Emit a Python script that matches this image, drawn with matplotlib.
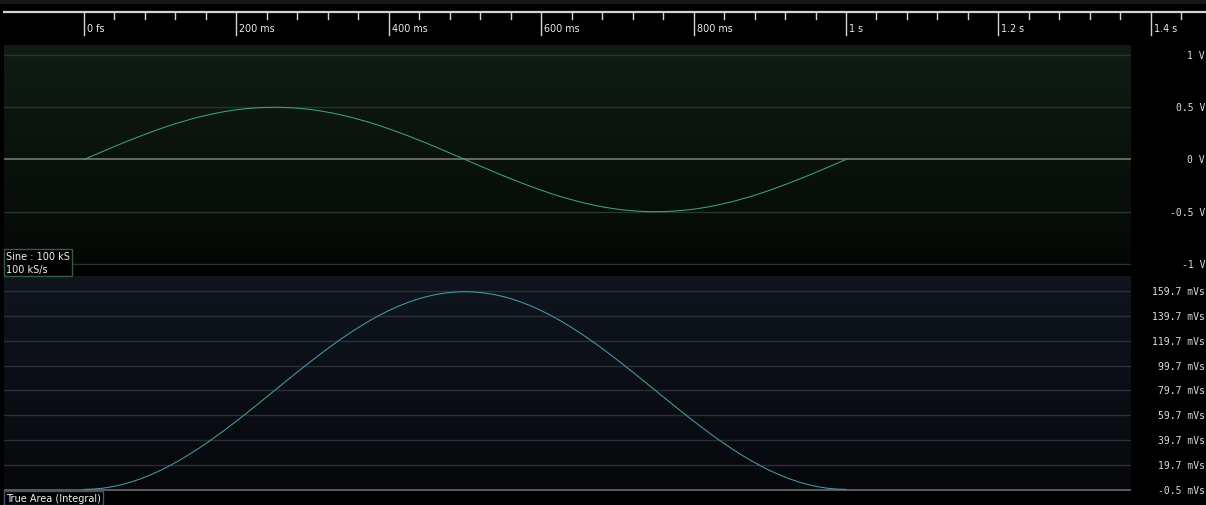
import numpy as np
import matplotlib
matplotlib.use("Agg")
import matplotlib.pyplot as plt
from matplotlib.patches import Rectangle
from matplotlib.colors import LinearSegmentedColormap

# -----------------------------
# Waveform data (12.5 ms steps over one period)
# -----------------------------
t_s = [i * 0.0125 for i in range(81)]

sine_v = [0.000, 0.039, 0.078, 0.117, 0.155, 0.191, 0.227, 0.261, 0.294, 0.325,
          0.354, 0.380, 0.405, 0.426, 0.446, 0.462, 0.476, 0.486, 0.494, 0.498,
          0.500, 0.498, 0.494, 0.486, 0.476, 0.462, 0.446, 0.426, 0.405, 0.380,
          0.354, 0.325, 0.294, 0.261, 0.227, 0.191, 0.155, 0.117, 0.078, 0.039,
          0.000, -0.039, -0.078, -0.117, -0.155, -0.191, -0.227, -0.261, -0.294, -0.325,
          -0.354, -0.380, -0.405, -0.426, -0.446, -0.462, -0.476, -0.486, -0.494, -0.498,
          -0.500, -0.498, -0.494, -0.486, -0.476, -0.462, -0.446, -0.426, -0.405, -0.380,
          -0.354, -0.325, -0.294, -0.261, -0.227, -0.191, -0.155, -0.117, -0.078, -0.039,
          0.000]

area_mvs = [0.00, 0.25, 0.98, 2.20, 3.89, 6.06, 8.67, 11.73, 15.20, 19.07,
            23.31, 27.90, 32.80, 38.00, 43.45, 49.13, 54.99, 61.00, 67.13, 73.34,
            79.58, 85.82, 92.03, 98.16, 104.17, 110.03, 115.71, 121.16, 126.36, 131.26,
            135.85, 140.09, 143.96, 147.43, 150.49, 153.10, 155.26, 156.96, 158.18, 158.91,
            159.16, 158.91, 158.18, 156.96, 155.26, 153.10, 150.49, 147.43, 143.96, 140.09,
            135.85, 131.26, 126.36, 121.16, 115.71, 110.03, 104.17, 98.16, 92.03, 85.82,
            79.58, 73.34, 67.13, 61.00, 54.99, 49.13, 43.45, 38.00, 32.80, 27.90,
            23.31, 19.07, 15.20, 11.73, 8.67, 6.06, 3.89, 2.20, 0.98, 0.25,
            0.00]

# Ruler / axis labels
ruler_ticks = [0.0, 0.2, 0.4, 0.6, 0.8, 1.0, 1.2, 1.4]
ruler_labels = ["0 fs", "200 ms", "400 ms", "600 ms", "800 ms", "1 s", "1.2 s", "1.4 s"]

volt_ticks = [1.0, 0.5, 0.0, -0.5, -1.0]
volt_labels = ["1 V", "0.5 V", "0 V", "-0.5 V", "-1 V"]

area_ticks = [159.7, 139.7, 119.7, 99.7, 79.7, 59.7, 39.7, 19.7, -0.5]
area_labels = ["159.7 mVs", "139.7 mVs", "119.7 mVs", "99.7 mVs", "79.7 mVs",
               "59.7 mVs", "39.7 mVs", "19.7 mVs", "-0.5 mVs"]

# -----------------------------
# Layout helpers (pixel based)
# -----------------------------
W, H = 1206, 506
PX_PER_S = 762.0
X0 = 84.0  # pixel of t = 0


def rect(x0, y0, x1, y1):
    return [x0 / W, 1 - y1 / H, (x1 - x0) / W, (y1 - y0) / H]


def px_to_t(px):
    return (px - X0) / PX_PER_S


fig = plt.figure(figsize=(W / 100, H / 100), dpi=100, facecolor="black")

# -----------------------------
# Time ruler
# -----------------------------
rul = fig.add_axes(rect(0, 0, W, 45))
rul.set_facecolor("black")
rul.set_xlim(px_to_t(0), px_to_t(W))
rul.set_ylim(45, 0)
rul.set_axis_off()
rul.axhspan(0, 4.5, color="#161616", lw=0)
rul.plot([px_to_t(3), px_to_t(W)], [13, 13], color="#d4d4d4", lw=1.6,
         solid_capstyle="butt")
for t0, lab in zip(ruler_ticks, ruler_labels):
    rul.plot([t0, t0], [13, 36], color="#d4d4d4", lw=1.0)
    rul.text(t0 + 3 / PX_PER_S, 28.5, lab, color="#ececec", fontsize=6.9,
             family="DejaVu Sans", va="center", ha="left")
    for k in range(1, 5):
        tm = t0 + k * 0.04
        if tm < px_to_t(W):
            rul.plot([tm, tm], [13, 19.5], color="#d4d4d4", lw=1.0)

# -----------------------------
# Panels
# -----------------------------
green_bg = LinearSegmentedColormap.from_list("g", ["#040805", "#101d14"])
blue_bg = LinearSegmentedColormap.from_list("b", ["#06080b", "#10151e"])
grad = np.linspace(0, 1, 256).reshape(-1, 1)

xlim = (px_to_t(4), px_to_t(1131))

top = fig.add_axes(rect(4, 46, 1131, 266))
top.set_xlim(*xlim)
top.set_ylim(-1.01, 1.096)
top.imshow(grad, cmap=green_bg, origin="lower", aspect="auto",
           extent=[0, 1, 0, 1], transform=top.transAxes, zorder=0)
for v in volt_ticks:
    if v != 0.0:
        top.axhline(v, color="#26362c", lw=1.0, zorder=1)
top.axhline(0.0, color="#7c7f7d", lw=1.1, zorder=2)
top.plot(t_s, sine_v, color="#3fa37a", lw=0.75, zorder=3)

bot = fig.add_axes(rect(4, 277, 1131, 492))
bot.set_xlim(*xlim)
bot.set_ylim(-1.3, 171.8)
bot.imshow(grad, cmap=blue_bg, origin="lower", aspect="auto",
           extent=[0, 1, 0, 1], transform=bot.transAxes, zorder=0)
for v in area_ticks[:-1]:
    bot.axhline(v, color="#2b3037", lw=1.0, zorder=1)
bot.axhline(area_ticks[-1], color="#707274", lw=1.1, zorder=2)
bot.plot(t_s, area_mvs, color="#4a97ad", lw=0.75, zorder=3)

for ax, ticks, labels in [(top, volt_ticks, volt_labels), (bot, area_ticks, area_labels)]:
    ax.set_axis_off()
    x_lab = (1205 - 4) / (1131 - 4)
    for v, lab in zip(ticks, labels):
        ax.text(x_lab, v, lab, transform=ax.get_yaxis_transform(), ha="right",
                va="center", color="#dcdcdc", fontsize=7.0,
                family="DejaVu Sans Mono", clip_on=False)

# -----------------------------
# Channel name boxes
# -----------------------------
def label_box(x0, y0, x1, y1, edge, lines):
    fig.patches.append(Rectangle((x0 / W, 1 - y1 / H), (x1 - x0) / W, (y1 - y0) / H,
                                 transform=fig.transFigure, facecolor="black",
                                 edgecolor=edge, lw=1.0, zorder=10))
    line_h = (y1 - y0) / len(lines)
    for i, s in enumerate(lines):
        yc = y0 + line_h * (i + 0.5)
        fig.text((x0 + 2) / W, 1 - yc / H, s, color="#f0f0f0", fontsize=7.0,
                 family="DejaVu Sans", va="center", ha="left", zorder=11)


label_box(4, 250, 72, 276.5, "#2f5f40", ["Sine : 100 kS", "100 kS/s"])
label_box(4, 492, 103, 505.5, "#3e5570", ["True Area (Integral)"])

fig.savefig("out.png", dpi=100, facecolor="black")
